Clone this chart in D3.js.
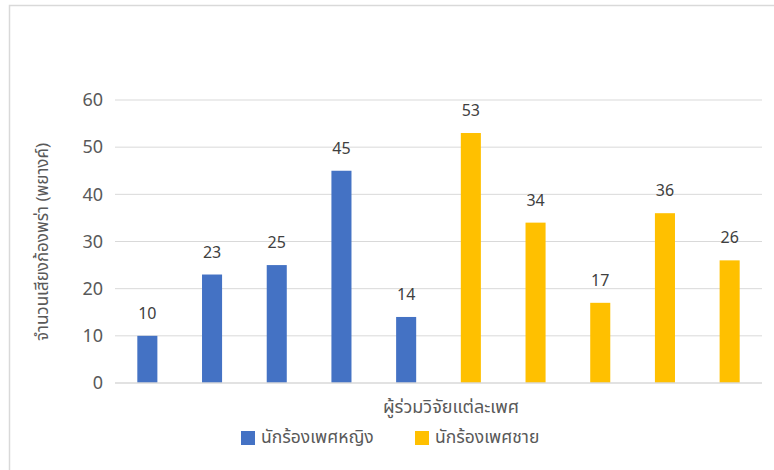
<!DOCTYPE html>
<html>
<head>
<meta charset="utf-8">
<script src="https://cdn.jsdelivr.net/npm/d3@7"></script>
<style>
  body { margin: 0; background: #fff; }
  text { font-family: "Noto Sans", "Noto Sans Thai", "Open Sans", sans-serif; }
</style>
</head>
<body>
<svg width="774" height="470"></svg>
<script>
// values
const singers = ['f1', 'f2', 'f3', 'f4', 'f5', 'm1', 'm2', 'm3', 'm4', 'm5'];
const counts = [10, 23, 25, 45, 14, 53, 34, 17, 36, 26];
const groups = ['female', 'female', 'female', 'female', 'female', 'male', 'male', 'male', 'male', 'male'];
const legendLabels = ['นักร้องเพศหญิง', 'นักร้องเพศชาย'];
const yTicks = [0, 10, 20, 30, 40, 50, 60];

const colors = {female: '#4472C4', male: '#FFC000'};

let svg = d3.select('svg');

// chart frame
svg.append('rect')
    .attr('x', 9.5).attr('y', 5.5)
    .attr('width', 800).attr('height', 500)
    .attr('fill', 'none')
    .attr('stroke', '#D9D9D9')
    .attr('stroke-width', 1.5);

let x = d3.scaleBand().domain(singers).range([115, 762]).paddingInner(0.69).paddingOuter(0.345);
let y = d3.scaleLinear().domain([0, 60]).range([383, 100]);

// gridlines
svg.append('g')
    .selectAll('line')
    .data(yTicks.filter(d => d > 0))
    .enter().append('line')
    .attr('x1', 115).attr('x2', 762)
    .attr('y1', d => y(d)).attr('y2', d => y(d))
    .attr('stroke', '#D9D9D9')
    .attr('stroke-width', 1);

// y axis labels
let yAxis = svg.append('g')
    .attr('transform', 'translate(103,0)')
    .call(d3.axisLeft(y).tickValues(yTicks).tickSize(0).tickPadding(0));
yAxis.select('.domain').remove();
yAxis.selectAll('text')
    .style('font-size', '18px')
    .attr('fill', '#595959');

// bars
let data = singers.map((s, i) => ({name: s, value: counts[i], group: groups[i]}));

svg.append('g')
    .selectAll('rect')
    .data(data)
    .enter().append('rect')
    .attr('x', d => x(d.name))
    .attr('width', x.bandwidth())
    .attr('y', d => y(d.value))
    .attr('height', d => y(0) - y(d.value))
    .attr('fill', d => colors[d.group]);

// value labels
svg.append('g')
    .selectAll('text')
    .data(data)
    .enter().append('text')
    .attr('x', d => x(d.name) + x.bandwidth() / 2)
    .attr('y', d => y(d.value) - 17)
    .attr('text-anchor', 'middle')
    .style('font-size', '16px')
    .attr('fill', '#404040')
    .text(d => d.value);

// baseline
svg.append('line')
    .attr('x1', 115).attr('x2', 762)
    .attr('y1', y(0)).attr('y2', y(0))
    .attr('stroke', '#D9D9D9')
    .attr('stroke-width', 1.5);

// axis titles
svg.append('text')
    .attr('transform', 'translate(48,242) rotate(-90)')
    .attr('text-anchor', 'middle')
    .style('font-size', '17px')
    .attr('fill', '#595959')
    .text('จำนวนเสียงก้องพร่า (พยางค์)');

svg.append('text')
    .attr('x', 451).attr('y', 413)
    .attr('text-anchor', 'middle')
    .style('font-size', '18px')
    .attr('fill', '#595959')
    .text('ผู้ร่วมวิจัยแต่ละเพศ');

// legend
let legendX = [241, 415];
let legend = svg.append('g')
    .selectAll('g')
    .data(legendLabels)
    .enter().append('g')
    .attr('transform', (d, i) => `translate(${legendX[i]},431)`);
legend.append('rect')
    .attr('width', 14).attr('height', 14)
    .attr('fill', (d, i) => i === 0 ? colors.female : colors.male);
legend.append('text')
    .attr('x', 20).attr('y', 12)
    .style('font-size', '17.5px')
    .attr('fill', '#595959')
    .text(d => d);
</script>
</body>
</html>
